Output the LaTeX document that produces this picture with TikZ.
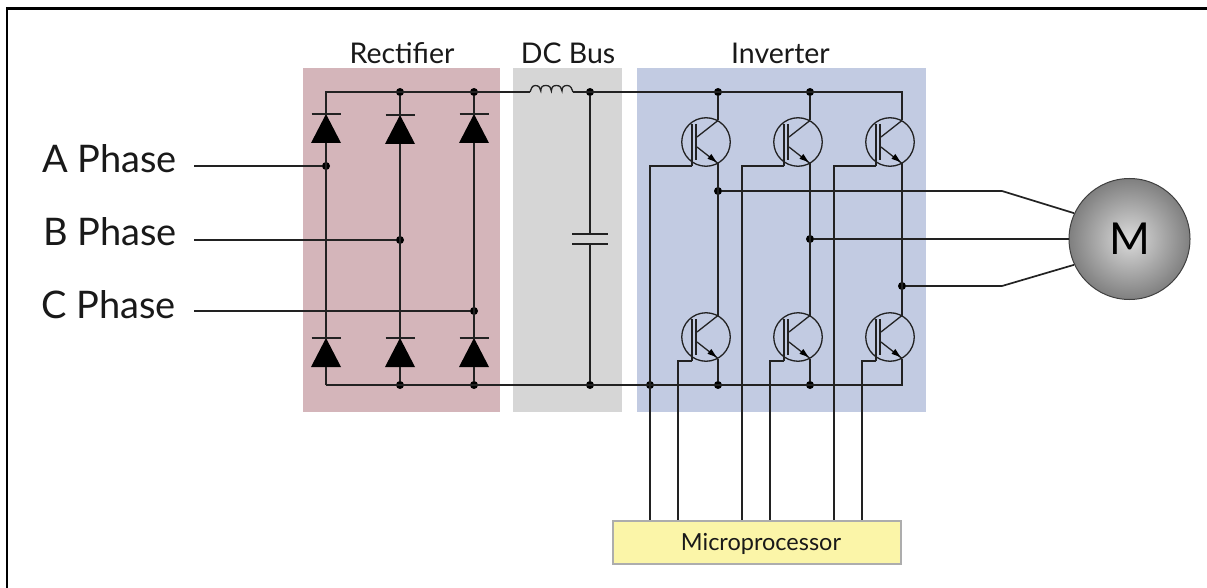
\documentclass[tikz,border=0pt]{standalone}
\usepackage{fontspec}
\setmainfont{Lato}
\usetikzlibrary{calc}
\definecolor{wire}{HTML}{222222}
\definecolor{chipy}{HTML}{FBF5A8}
\tikzset{
  panel/.style={draw=none,inner sep=0pt,minimum height=344pt,anchor=north west},
  wirepath/.style={draw=wire,line width=1.7pt,line join=miter},
  thinwire/.style={draw=wire,line width=1.3pt},
  junction/.style={circle,fill=black,inner sep=0pt,minimum size=8pt},
  igbtring/.style={circle,draw=wire,line width=1.3pt,inner sep=0pt,minimum size=48.5pt},
  biglabel/.style={anchor=base west,inner sep=0pt,font=\fontsize{38}{38}\selectfont,text=black!90},
  headlabel/.style={anchor=base,inner sep=0pt,font=\fontsize{28.5}{28.5}\selectfont,text=black!90},
  chipbox/.style={draw=black!32,line width=1.8pt,fill=chipy,inner sep=0pt,minimum width=288pt,minimum height=43pt},
}
% name, x, y
\newcommand{\igbt}[3]{%
  \node[igbtring] (#1) at (#2,#3) {};
  \begin{scope}[shift={(#2,#3)}]
    \coordinate (#1c) at (12,-21.5);
    \coordinate (#1e) at (12,21.5);
    \coordinate (#1g) at (-14,24);
    \draw[thinwire] (-14,-18) -- (#1g);
    \draw[thinwire] (-10,-18) -- (-10,18);
    \draw[thinwire] (-9,-5) -- (#1c);
    \draw[thinwire] (-9,5) -- (#1e);
    \fill[black] (10.5,20) -- (5.3,12) -- (1.5,16.8) -- cycle;
  \end{scope}}
% name, x, y of bar
\newcommand{\rectdiode}[3]{%
  \coordinate (#1k) at (#2,#3);
  \coordinate (#1a) at (#2,#3+29);
  \fill[black] (#2,#3) -- (#2+15,#3+29) -- (#2-15,#3+29) -- cycle;
  \draw[wirepath] (#2-14.5,#3) -- (#2+14.5,#3);}
\begin{document}
\begin{tikzpicture}[x=1pt,y=-1pt]
\useasboundingbox (0,0) rectangle (1207,588);
% frame
\draw[black,line width=2.4pt] (7,588) -- (7,8.5) -- (1207,8.5);
% panels
\node[panel,fill={rgb,255:red,212;green,181;blue,186},minimum width=197pt] (rectpanel) at (303,68) {};
\node[panel,fill={rgb,255:red,214;green,214;blue,214},minimum width=109pt] (dcpanel) at (513,68) {};
\node[panel,fill={rgb,255:red,194;green,203;blue,226},minimum width=289pt] (invpanel) at (637,68) {};
% headings
\node[headlabel] (rectlabel) at (402,64) {Rectifier};
\node[headlabel] (dclabel) at (568,64) {DC Bus};
\node[headlabel] (invlabel) at (780.5,64) {Inverter};
% phase labels
\node[biglabel] (pa) at (42,172.5) {A Phase};
\node[biglabel] (pb) at (43,245) {B Phase};
\node[biglabel] (pc) at (41,318) {C Phase};
\coordinate (sa) at (194,166);
\coordinate (sb) at (194,240);
\coordinate (sc) at (194,311);
% junctions
\node[junction] (t2) at (400,92) {};
\node[junction] (t3) at (474,92) {};
\node[junction] (t4) at (590,92) {};
\node[junction] (t5) at (718,92) {};
\node[junction] (t6) at (810,92) {};
\coordinate (t1) at (326,92);
\coordinate (t7) at (902,92);
\node[junction] (ja) at (326,166) {};
\node[junction] (jb) at (400,240) {};
\node[junction] (jc) at (474,311) {};
\coordinate (b1) at (326,385);
\node[junction] (b2) at (400,385) {};
\node[junction] (b3) at (474,385) {};
\node[junction] (b4) at (590,385) {};
\node[junction] (b5) at (650,385) {};
\node[junction] (b6) at (718,385) {};
\node[junction] (b7) at (810,385) {};
\coordinate (b8) at (902,385);
\node[junction] (o1) at (718,191) {};
\node[junction] (o2) at (810,239) {};
\node[junction] (o3) at (902,286) {};
% diodes
\rectdiode{du1}{326}{114}
\rectdiode{du2}{400}{115}
\rectdiode{du3}{474}{114}
\rectdiode{dl1}{326}{338}
\rectdiode{dl2}{400}{338}
\rectdiode{dl3}{474}{338}
% transistors
\igbt{q1}{706}{142}
\igbt{q2}{798}{142}
\igbt{q3}{890}{142}
\igbt{q4}{706}{337}
\igbt{q5}{798}{337}
\igbt{q6}{890}{337}
% motor
\node[circle,draw=black!75,line width=1pt,inner color=black!14,outer color=black!50,minimum size=121pt,inner sep=0pt,font=\fontsize{44}{44}\selectfont] (M) at (1129.5,239) {M};
% microprocessor
\node[chipbox,anchor=north west] (chip) at (612,520) {};
\node[anchor=base,inner sep=0pt,font=\fontsize{23.5}{23.5}\selectfont,text=black!90] (chiplabel) at (761,550.5) {Microprocessor};
% phase lines
\draw[wirepath] (sa) -- (ja);
\draw[wirepath] (sb) -- (jb);
\draw[wirepath] (sc) -- (jc);
% rectifier columns
\draw[wirepath] (t3) -- (du3k) (du3a) -- (dl3k) (dl3a) -- (b3);
\draw[wirepath] (t2) -- (du2k) (du2a) -- (dl2k) (dl2a) -- (b2);
\draw[wirepath] (b1) -- (dl1a) (dl1k) -- (du1a);
% buses and inductor
\coordinate (lin) at (530,92);
\coordinate (lout) at (573,92);
\draw[wirepath] (du1k) -- (t1) -- (lin);
\draw[thinwire] (lin) .. controls (531,89) and (532,85.5) .. (535.3,85.5) .. controls (539,85.5) and (540.5,88) .. (540.8,91)
  .. controls (541,87) and (542,85.5) .. (546,85.5) .. controls (550,85.5) and (551,88) .. (551.4,91)
  .. controls (551.6,87) and (553,85.5) .. (556.5,85.5) .. controls (560.5,85.5) and (561.5,88) .. (562,91)
  .. controls (562.2,87) and (563.5,85.5) .. (567.2,85.5) .. controls (571,85.5) and (572,89) .. (lout);
\draw[wirepath] (lout) -- (t7) -- (q3c);
\draw[wirepath] (b1) -- (b8) -- (q6e);
% capacitor
\coordinate (cu) at (590,234);
\coordinate (cl) at (590,244);
\draw[wirepath] (t4) -- (cu) (cl) -- (b4);
\draw[wirepath] ($(cu)+(-18,0)$) -- ($(cu)+(18,0)$);
\draw[wirepath] ($(cl)+(-18,0)$) -- ($(cl)+(18,0)$);
% inverter legs
\draw[wirepath] (t5) -- (q1c) (q1e) -- (q4c) (q4e) -- (b6);
\draw[wirepath] (t6) -- (q2c) (q2e) -- (q5c) (q5e) -- (b7);
\draw[wirepath] (q3e) -- (q6c);
% gates
\coordinate (g1) at (650,520);
\coordinate (g2) at (678,520);
\coordinate (g3) at (742,520);
\coordinate (g4) at (770,520);
\coordinate (g5) at (834,520);
\coordinate (g6) at (862,520);
\draw[wirepath] (q1g) -| (g1);
\draw[wirepath] (q2g) -| (g3);
\draw[wirepath] (q3g) -| (g5);
\draw[wirepath] (q4g) -| (g2);
\draw[wirepath] (q5g) -| (g4);
\draw[wirepath] (q6g) -| (g6);
% outputs
\coordinate (k1) at (1002,191);
\coordinate (k3) at (1002,286);
\draw[wirepath] (o1) -- (k1) -- (M.155);
\draw[wirepath] (o2) -- (M.west);
\draw[wirepath] (o3) -- (k3) -- (M.205);
\end{tikzpicture}
\end{document}
